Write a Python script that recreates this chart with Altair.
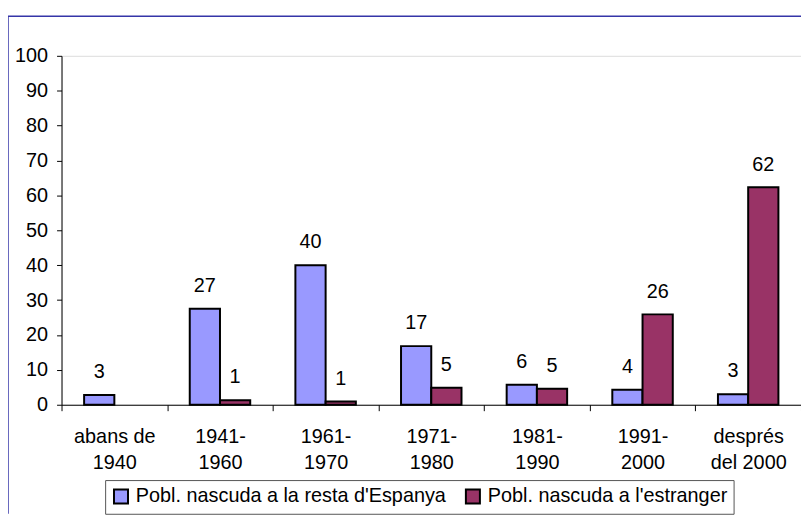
import altair as alt
import pandas as pd

categories = ["abans de\n1940", "1941-\n1960", "1961-\n1970", "1971-\n1980",
              "1981-\n1990", "1991-\n2000", "després\ndel 2000"]
series = ["Pobl. nascuda a la resta d'Espanya", "Pobl. nascuda a l'estranger"]
spain_values = [2.8, 27.5, 40.0, 16.8, 5.7, 4.3, 3.0]
spain_labels = ["3", "27", "40", "17", "6", "4", "3"]
foreign_values = [None, 1.3, 0.9, 4.9, 4.6, 25.9, 62.3]
foreign_labels = ["", "1", "1", "5", "5", "26", "62"]
colors = ["#9999FF", "#993366"]
y_ticks = [0, 10, 20, 30, 40, 50, 60, 70, 80, 90, 100]

rows = []
for c, v, l in zip(categories, spain_values, spain_labels):
    rows.append({"cat": c, "series": series[0], "value": v, "label": l})
for c, v, l in zip(categories, foreign_values, foreign_labels):
    if v is not None:
        rows.append({"cat": c, "series": series[1], "value": v, "label": l})
df = pd.DataFrame(rows)

FONT = "Liberation Sans"
FS = 20
W, H = 746, 352
PAD_L, PAD_T, PAD_B = 54, 46, 110

xenc = alt.X("cat:N", sort=categories,
             scale=alt.Scale(paddingInner=0, paddingOuter=0),
             axis=alt.Axis(title=None, labelAngle=0, tickBand="extent",
                           labelExpr="split(datum.label, '\\n')",
                           labelFontSize=FS, labelFont=FONT, labelColor="black",
                           labelPadding=16, labelLineHeight=26, labelBaseline="top",
                           tickSize=6, tickColor="black", domainColor="black",
                           labelLimit=200))
xoff = alt.XOffset("series:N", sort=series,
                   scale=alt.Scale(domain=series, paddingInner=0, paddingOuter=0.747))
yenc = alt.Y("value:Q", scale=alt.Scale(domain=[0, 100], nice=False),
             axis=alt.Axis(title=None, values=y_ticks, tickCount=11, grid=False,
                           labelOverlap=False,
                           labelFontSize=FS, labelFont=FONT, labelColor="black",
                           labelPadding=9, tickSize=5, tickColor="black",
                           domainColor="black"))

base = alt.Chart(df)

bars = base.mark_bar(stroke="black", strokeWidth=2, opacity=1).encode(
    x=xenc, xOffset=xoff, y=yenc,
    color=alt.Color("series:N", sort=series,
                    scale=alt.Scale(domain=series, range=colors),
                    legend=alt.Legend(title=None, orient="none", legendX=44, legendY=428,
                                      direction="horizontal", columns=2,
                                      symbolType="square", symbolSize=200,
                                      symbolStrokeColor="black", symbolStrokeWidth=2,
                                      symbolOpacity=1,
                                      labelFontSize=FS, labelFont=FONT, labelColor="black",
                                      labelOffset=5, columnPadding=15, labelLimit=500,
                                      padding=6, strokeColor="#555555",
                                      fillColor="white")),
)

texts = base.mark_text(font=FONT, fontSize=FS, color="black", baseline="alphabetic",
                       dy=-17).encode(
    x=xenc, xOffset=xoff, y=yenc, text="label:N")

border_df = pd.DataFrame({"k": [0]})
top_border = alt.Chart(border_df).mark_rule(color="#3535A8", strokeWidth=1.5).encode(
    x=alt.value(-PAD_L), x2=alt.value(W), y=alt.value(-40))
left_border = alt.Chart(border_df).mark_rule(color="#3535A8", strokeWidth=1.5).encode(
    x=alt.value(-PAD_L), y=alt.value(-40), y2=alt.value(H + PAD_B))

chart = alt.layer(top_border, left_border, bars, texts).properties(
    width=W, height=H,
    padding={"left": PAD_L, "top": PAD_T, "right": 0, "bottom": PAD_B},
    autosize=alt.AutoSizeParams(type="none"),
).configure_view(stroke=None).configure(background="white")

chart.save("out.html", embed_options={"renderer": "svg", "actions": False})
